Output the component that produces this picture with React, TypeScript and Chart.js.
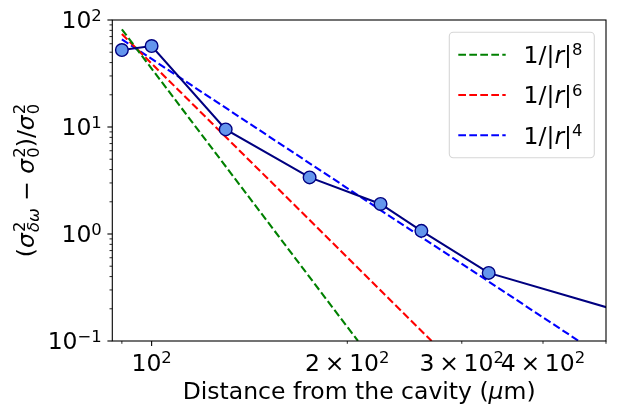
import React, { useEffect, useRef } from "react";
import Chart from "chart.js/auto";

// measured variance vs distance
const distance = [90, 100, 130, 175, 225, 260, 330, 600];
const variance = [52.4, 57.1, 9.5, 3.38, 1.91, 1.07, 0.433, 0.15];

// power-law guide lines (end points)
const fit8X = [90, 207.7];
const fit8Y = [81.8, 0.1];
const fit6X = [90, 269.6];
const fit6Y = [74, 0.1];
const fit4X = [90, 454];
const fit4Y = [66, 0.1];

const xTickValues = [100, 200, 300, 400];
const xTickLabels = ["10^2", "2\u2009×\u200910^2", "3\u2009×\u200910^2", "4\u2009×\u200910^2"];
const xMinorTicks = [90, 200, 300, 400, 500];
const yTickValues = [0.1, 1, 10, 100];
const yTickLabels = ["10^−1", "10^0", "10^1", "10^2"];

const legendColors = ["green", "red", "blue"];
const legendPowers = ["8", "6", "4"];

type Seg = { t: string; it?: boolean; sup?: string; sub?: string; subIt?: boolean };

const FS = 23.5;
const FAMILY = '"DejaVu Sans"';
const fontOf = (size: number, it?: boolean) =>
  `${it ? "italic " : ""}${size}px ${FAMILY}`;

const parseSimple = (s: string): Seg[] => {
  const [base, sup] = s.split("^");
  return [{ t: base, sup }];
};

function measureMath(ctx: CanvasRenderingContext2D, segs: Seg[], size: number) {
  let w = 0;
  for (const s of segs) {
    ctx.font = fontOf(size, s.it);
    w += ctx.measureText(s.t).width;
    if (s.it && (s.sup || s.sub)) w += 1;
    let sw = 0;
    if (s.sup) {
      ctx.font = fontOf(size * 0.7);
      sw = Math.max(sw, ctx.measureText(s.sup).width);
    }
    if (s.sub) {
      ctx.font = fontOf(size * 0.7, s.subIt);
      sw = Math.max(sw, ctx.measureText(s.sub).width);
    }
    w += sw;
  }
  return w;
}

function drawMath(
  ctx: CanvasRenderingContext2D,
  segs: Seg[],
  x: number,
  y: number,
  size: number
) {
  ctx.textAlign = "left";
  ctx.textBaseline = "alphabetic";
  ctx.fillStyle = "#000";
  for (const s of segs) {
    ctx.font = fontOf(size, s.it);
    ctx.fillText(s.t, x, y);
    x += ctx.measureText(s.t).width;
    if (s.it && (s.sup || s.sub)) x += 1;
    let sw = 0;
    const both = !!(s.sup && s.sub);
    if (s.sup) {
      ctx.font = fontOf(size * 0.7);
      ctx.fillText(s.sup, x, y - size * (both ? 0.36 : 0.32));
      sw = Math.max(sw, ctx.measureText(s.sup).width);
    }
    if (s.sub) {
      ctx.font = fontOf(size * 0.7, s.subIt);
      ctx.fillText(s.sub, x, y + size * (both ? 0.22 : 0.18));
      sw = Math.max(sw, ctx.measureText(s.sub).width);
    }
    x += sw;
  }
}

const yTitle: Seg[] = [
  { t: "(" },
  { t: "σ", it: true, sup: "2", sub: "δω", subIt: true },
  { t: " − " },
  { t: "σ", it: true, sup: "2", sub: "0" },
  { t: ")/" },
  { t: "σ", it: true, sup: "2", sub: "0" },
];
const xTitle: Seg[] = [
  { t: "Distance from the cavity (" },
  { t: "μ", it: true },
  { t: "m)" },
];

const decorPlugin = {
  id: "decor",
  afterDraw(chart: Chart) {
    const ctx = chart.ctx;
    const { left, right, top, bottom } = chart.chartArea;
    const xs = chart.scales.x;
    const ys = chart.scales.y;
    ctx.save();

    // spines
    ctx.strokeStyle = "#000";
    ctx.lineWidth = 1.1;
    ctx.strokeRect(left, top, right - left, bottom - top);

    // y ticks
    for (let e = -1; e <= 2; e++) {
      const v = Math.pow(10, e);
      const py = ys.getPixelForValue(v);
      ctx.lineWidth = 1.1;
      ctx.beginPath();
      ctx.moveTo(left, py);
      ctx.lineTo(left - 4.9, py);
      ctx.stroke();
      if (e < 2) {
        for (let k = 2; k <= 9; k++) {
          const my = ys.getPixelForValue(k * v);
          ctx.lineWidth = 0.85;
          ctx.beginPath();
          ctx.moveTo(left, my);
          ctx.lineTo(left - 2.8, my);
          ctx.stroke();
        }
      }
    }
    // x ticks
    const px100 = xs.getPixelForValue(100);
    ctx.lineWidth = 1.1;
    ctx.beginPath();
    ctx.moveTo(px100, bottom);
    ctx.lineTo(px100, bottom + 4.9);
    ctx.stroke();
    for (const v of xMinorTicks) {
      const px = xs.getPixelForValue(v);
      ctx.lineWidth = 0.85;
      ctx.beginPath();
      ctx.moveTo(px, bottom);
      ctx.lineTo(px, bottom + 2.8);
      ctx.stroke();
    }

    // tick labels
    xTickValues.forEach((v, i) => {
      const segs = parseSimple(xTickLabels[i]);
      const w = measureMath(ctx, segs, FS);
      drawMath(ctx, segs, xs.getPixelForValue(v) - w / 2, bottom + 29.5, FS);
    });
    yTickValues.forEach((v, i) => {
      const segs = parseSimple(yTickLabels[i]);
      const w = measureMath(ctx, segs, FS);
      drawMath(ctx, segs, left - 10.5 - w, ys.getPixelForValue(v) + 8.3, FS);
    });

    // axis titles
    const xw = measureMath(ctx, xTitle, FS);
    drawMath(ctx, xTitle, (left + right) / 2 - xw / 2, 399, FS);
    const yw = measureMath(ctx, yTitle, FS);
    ctx.save();
    ctx.translate(33.5, (top + bottom) / 2);
    ctx.rotate(-Math.PI / 2);
    drawMath(ctx, yTitle, -yw / 2, 0, FS);
    ctx.restore();

    // legend
    const bx = 449.3, by = 32.3, bw = 145, bh = 125.4, r = 4;
    ctx.beginPath();
    ctx.moveTo(bx + r, by);
    ctx.arcTo(bx + bw, by, bx + bw, by + bh, r);
    ctx.arcTo(bx + bw, by + bh, bx, by + bh, r);
    ctx.arcTo(bx, by + bh, bx, by, r);
    ctx.arcTo(bx, by, bx + bw, by, r);
    ctx.closePath();
    ctx.fillStyle = "rgba(255,255,255,0.8)";
    ctx.fill();
    ctx.strokeStyle = "#d6d6d6";
    ctx.lineWidth = 1.1;
    ctx.stroke();
    legendColors.forEach((c, i) => {
      const ly = 54.7 + i * 40.3;
      ctx.strokeStyle = c;
      ctx.lineWidth = 2.1;
      ctx.setLineDash([7.7, 3.3]);
      ctx.beginPath();
      ctx.moveTo(458.3, ly);
      ctx.lineTo(505.7, ly);
      ctx.stroke();
      ctx.setLineDash([]);
      const segs: Seg[] = [
        { t: "1/|" },
        { t: "r", it: true },
        { t: "|", sup: legendPowers[i] },
      ];
      drawMath(ctx, segs, 523.6, ly + 8.3, FS);
    });

    ctx.restore();
  },
};

const App: React.FC = () => {
  const canvasRef = useRef<HTMLCanvasElement | null>(null);
  const chartRef = useRef<Chart | null>(null);

  useEffect(() => {
    if (!canvasRef.current) return;
    if (chartRef.current) chartRef.current.destroy();

    const pts = (xs: number[], ys: number[]) => xs.map((x, i) => ({ x, y: ys[i] }));
    const dashed = (xs: number[], ys: number[], color: string) => ({
      data: pts(xs, ys),
      borderColor: color,
      borderWidth: 2.1,
      borderDash: [7.7, 3.3],
      pointRadius: 0,
      fill: false,
    });

    chartRef.current = new Chart(canvasRef.current, {
      type: "line",
      data: {
        datasets: [
          {
            data: pts(distance, variance),
            borderColor: "#000080",
            borderWidth: 2.1,
            pointRadius: 6.3,
            pointBackgroundColor: "#6495ED",
            pointBorderColor: "#000080",
            pointBorderWidth: 1.4,
            fill: false,
          },
          dashed(fit8X, fit8Y, "green"),
          dashed(fit6X, fit6Y, "red"),
          dashed(fit4X, fit4Y, "blue"),
        ],
      },
      options: {
        animation: false,
        responsive: true,
        maintainAspectRatio: false,
        layout: { padding: { left: 0, right: 16, top: 20, bottom: 0 } },
        plugins: {
          legend: { display: false },
          tooltip: { enabled: false },
        },
        scales: {
          x: {
            type: "logarithmic",
            min: 87,
            max: 500,
            grid: { display: false },
            border: { display: false },
            ticks: { display: false },
            afterFit: (s: any) => {
              s.height = 76;
            },
          },
          y: {
            type: "logarithmic",
            min: 0.1,
            max: 100,
            grid: { display: false },
            border: { display: false },
            ticks: { display: false },
            afterFit: (s: any) => {
              s.width = 112.3;
            },
          },
        },
      },
      plugins: [decorPlugin],
    });

    return () => {
      if (chartRef.current) {
        chartRef.current.destroy();
        chartRef.current = null;
      }
    };
  }, []);

  return (
    <div
      style={{
        position: "absolute",
        left: 0,
        top: 0,
        width: 622,
        height: 417,
        background: "#fff",
      }}
    >
      <canvas ref={canvasRef} />
    </div>
  );
};

export default App;
